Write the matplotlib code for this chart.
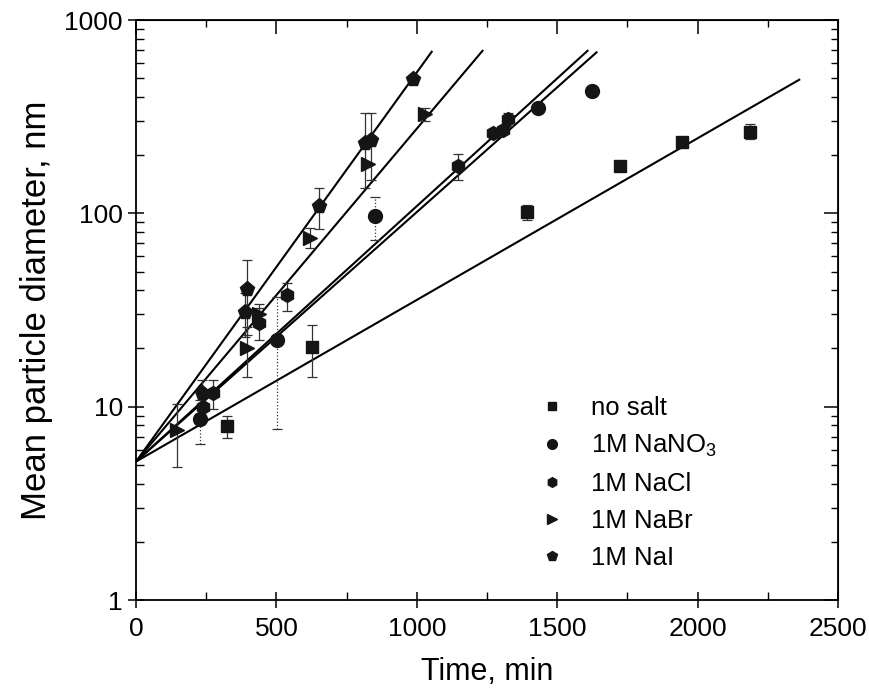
import matplotlib
matplotlib.use("Agg")
import matplotlib.pyplot as plt
from matplotlib.ticker import FixedLocator, NullFormatter, FixedFormatter

plt.rcParams['font.family'] = ['Liberation Sans', 'DejaVu Sans']
plt.rcParams['mathtext.fontset'] = 'custom'
plt.rcParams['mathtext.rm'] = 'Liberation Sans'

# time (min), mean diameter (nm), error (nm)
nosalt_t = [323, 626, 1393, 1723, 1943, 2186]
nosalt_d = [7.9, 20.4, 101, 175, 234, 265]
nosalt_e = [1.0, 6.2, 9, 0, 0, 24]

nano3_t = [228, 503, 851, 1433, 1623]
nano3_d = [8.6, 22.2, 97, 349, 427]
nano3_e = [2.2, 14.5, 24, 0, 0]

nacl_t = [240, 275, 439, 537, 1146, 1273, 1308, 1326]
nacl_d = [10.0, 11.7, 27.2, 37.6, 176, 260, 270, 307]
nacl_e = [1.5, 2.0, 5.0, 6.2, 27, 0, 0, 25]

nabr_t = [145, 394, 439, 620, 827, 1029]
nabr_d = [7.6, 20.1, 30.0, 74.8, 179.5, 326]
nabr_e = [2.7, 5.8, 4.0, 9, 0, 25]

nai_t = [234, 388, 396, 653, 815, 836, 988]
nai_d = [11.8, 30.8, 40.4, 109, 232, 240, 495]
nai_e = [2.0, 8, 17, 26, 97, 92, 0]

# exponential fits, drawn as straight lines on the log axis: (start, end)
fit_t0 = 0
fit_d0 = 5.2
fit_t_end = [2362, 1608, 1640, 1234, 1053]
fit_d_end = [491, 693, 680, 693, 685]

series = [
    (nosalt_t, nosalt_d, nosalt_e, 's', 9, '-', 'no salt'),
    (nano3_t, nano3_d, nano3_e, 'o', 10, ':', '1M NaNO$_\\mathregular{3}$'),
    (nacl_t, nacl_d, nacl_e, 'h', 10, '-', '1M NaCl'),
    (nabr_t, nabr_d, nabr_e, '>', 10, '-', '1M NaBr'),
    (nai_t, nai_d, nai_e, 'p', 11, '-', '1M NaI'),
]

fig = plt.figure(figsize=(8.69, 6.99), dpi=100)
ax = fig.add_axes([136 / 869, 1 - 600 / 699, 702 / 869, 580 / 699])

for t_end, d_end in zip(fit_t_end, fit_d_end):
    ax.plot([fit_t0, t_end], [fit_d0, d_end], color='black', lw=1.5, zorder=2)

for t, d, e, mk, ms, ls, lab in series:
    eb = ax.errorbar(t, d, yerr=e, fmt='none', ecolor='#333333', elinewidth=0.9,
                     capsize=3.5, capthick=0.9, zorder=3)
    if ls != '-':
        for coll in eb[2]:
            coll.set_linestyle(ls)
    ax.plot(t, d, ls='none', marker=mk, ms=ms, color='#151515', zorder=4, label=lab)

ax.set_yscale('log')
ax.set_xlim(0, 2500)
ax.set_ylim(1, 1000)

ax.xaxis.set_major_locator(FixedLocator([0, 500, 1000, 1500, 2000, 2500]))
ax.xaxis.set_minor_locator(FixedLocator([250, 750, 1250, 1750, 2250]))
ax.yaxis.set_major_locator(FixedLocator([1, 10, 100, 1000]))
ax.yaxis.set_major_formatter(FixedFormatter(['1', '10', '100', '1000']))
ax.yaxis.set_minor_locator(FixedLocator([m * 10 ** k for k in range(3) for m in range(2, 10)]))
ax.yaxis.set_minor_formatter(NullFormatter())

ax.tick_params(which='major', direction='inout', length=12, width=1.1, labelsize=19)
ax.tick_params(which='minor', direction='in', length=6, width=1.0)
ax.tick_params(axis='x', which='major', pad=6)
for sp in ax.spines.values():
    sp.set_linewidth(1.3)

# top / right ticks pointing inward, no labels
top = ax.secondary_xaxis('top')
top.xaxis.set_major_locator(FixedLocator([0, 500, 1000, 1500, 2000, 2500]))
top.xaxis.set_minor_locator(FixedLocator([250, 750, 1250, 1750, 2250]))
top.tick_params(which='major', direction='in', length=10, width=1.1, labeltop=False)
top.tick_params(which='minor', direction='in', length=5, width=1.0)
right = ax.secondary_yaxis('right')
right.yaxis.set_major_locator(FixedLocator([1, 10, 100, 1000]))
right.yaxis.set_minor_locator(FixedLocator([m * 10 ** k for k in range(3) for m in range(2, 10)]))
right.yaxis.set_minor_formatter(NullFormatter())
right.tick_params(which='major', direction='in', length=10, width=1.1, labelright=False)
right.tick_params(which='minor', direction='in', length=5, width=1.0)

ax.set_xlabel('Time, min', fontsize=22, labelpad=12)
ax.set_ylabel('Mean particle diameter, nm', fontsize=25, labelpad=8)

ax.legend(loc='upper left', bbox_to_anchor=((542 - 136) / 702, (600 - 396) / 580),
          frameon=False, fontsize=18.5, markerscale=0.7, handlelength=0.8,
          handletextpad=1.1, labelspacing=0.5, borderpad=0, borderaxespad=0)

plt.savefig('out.png', dpi=100)
